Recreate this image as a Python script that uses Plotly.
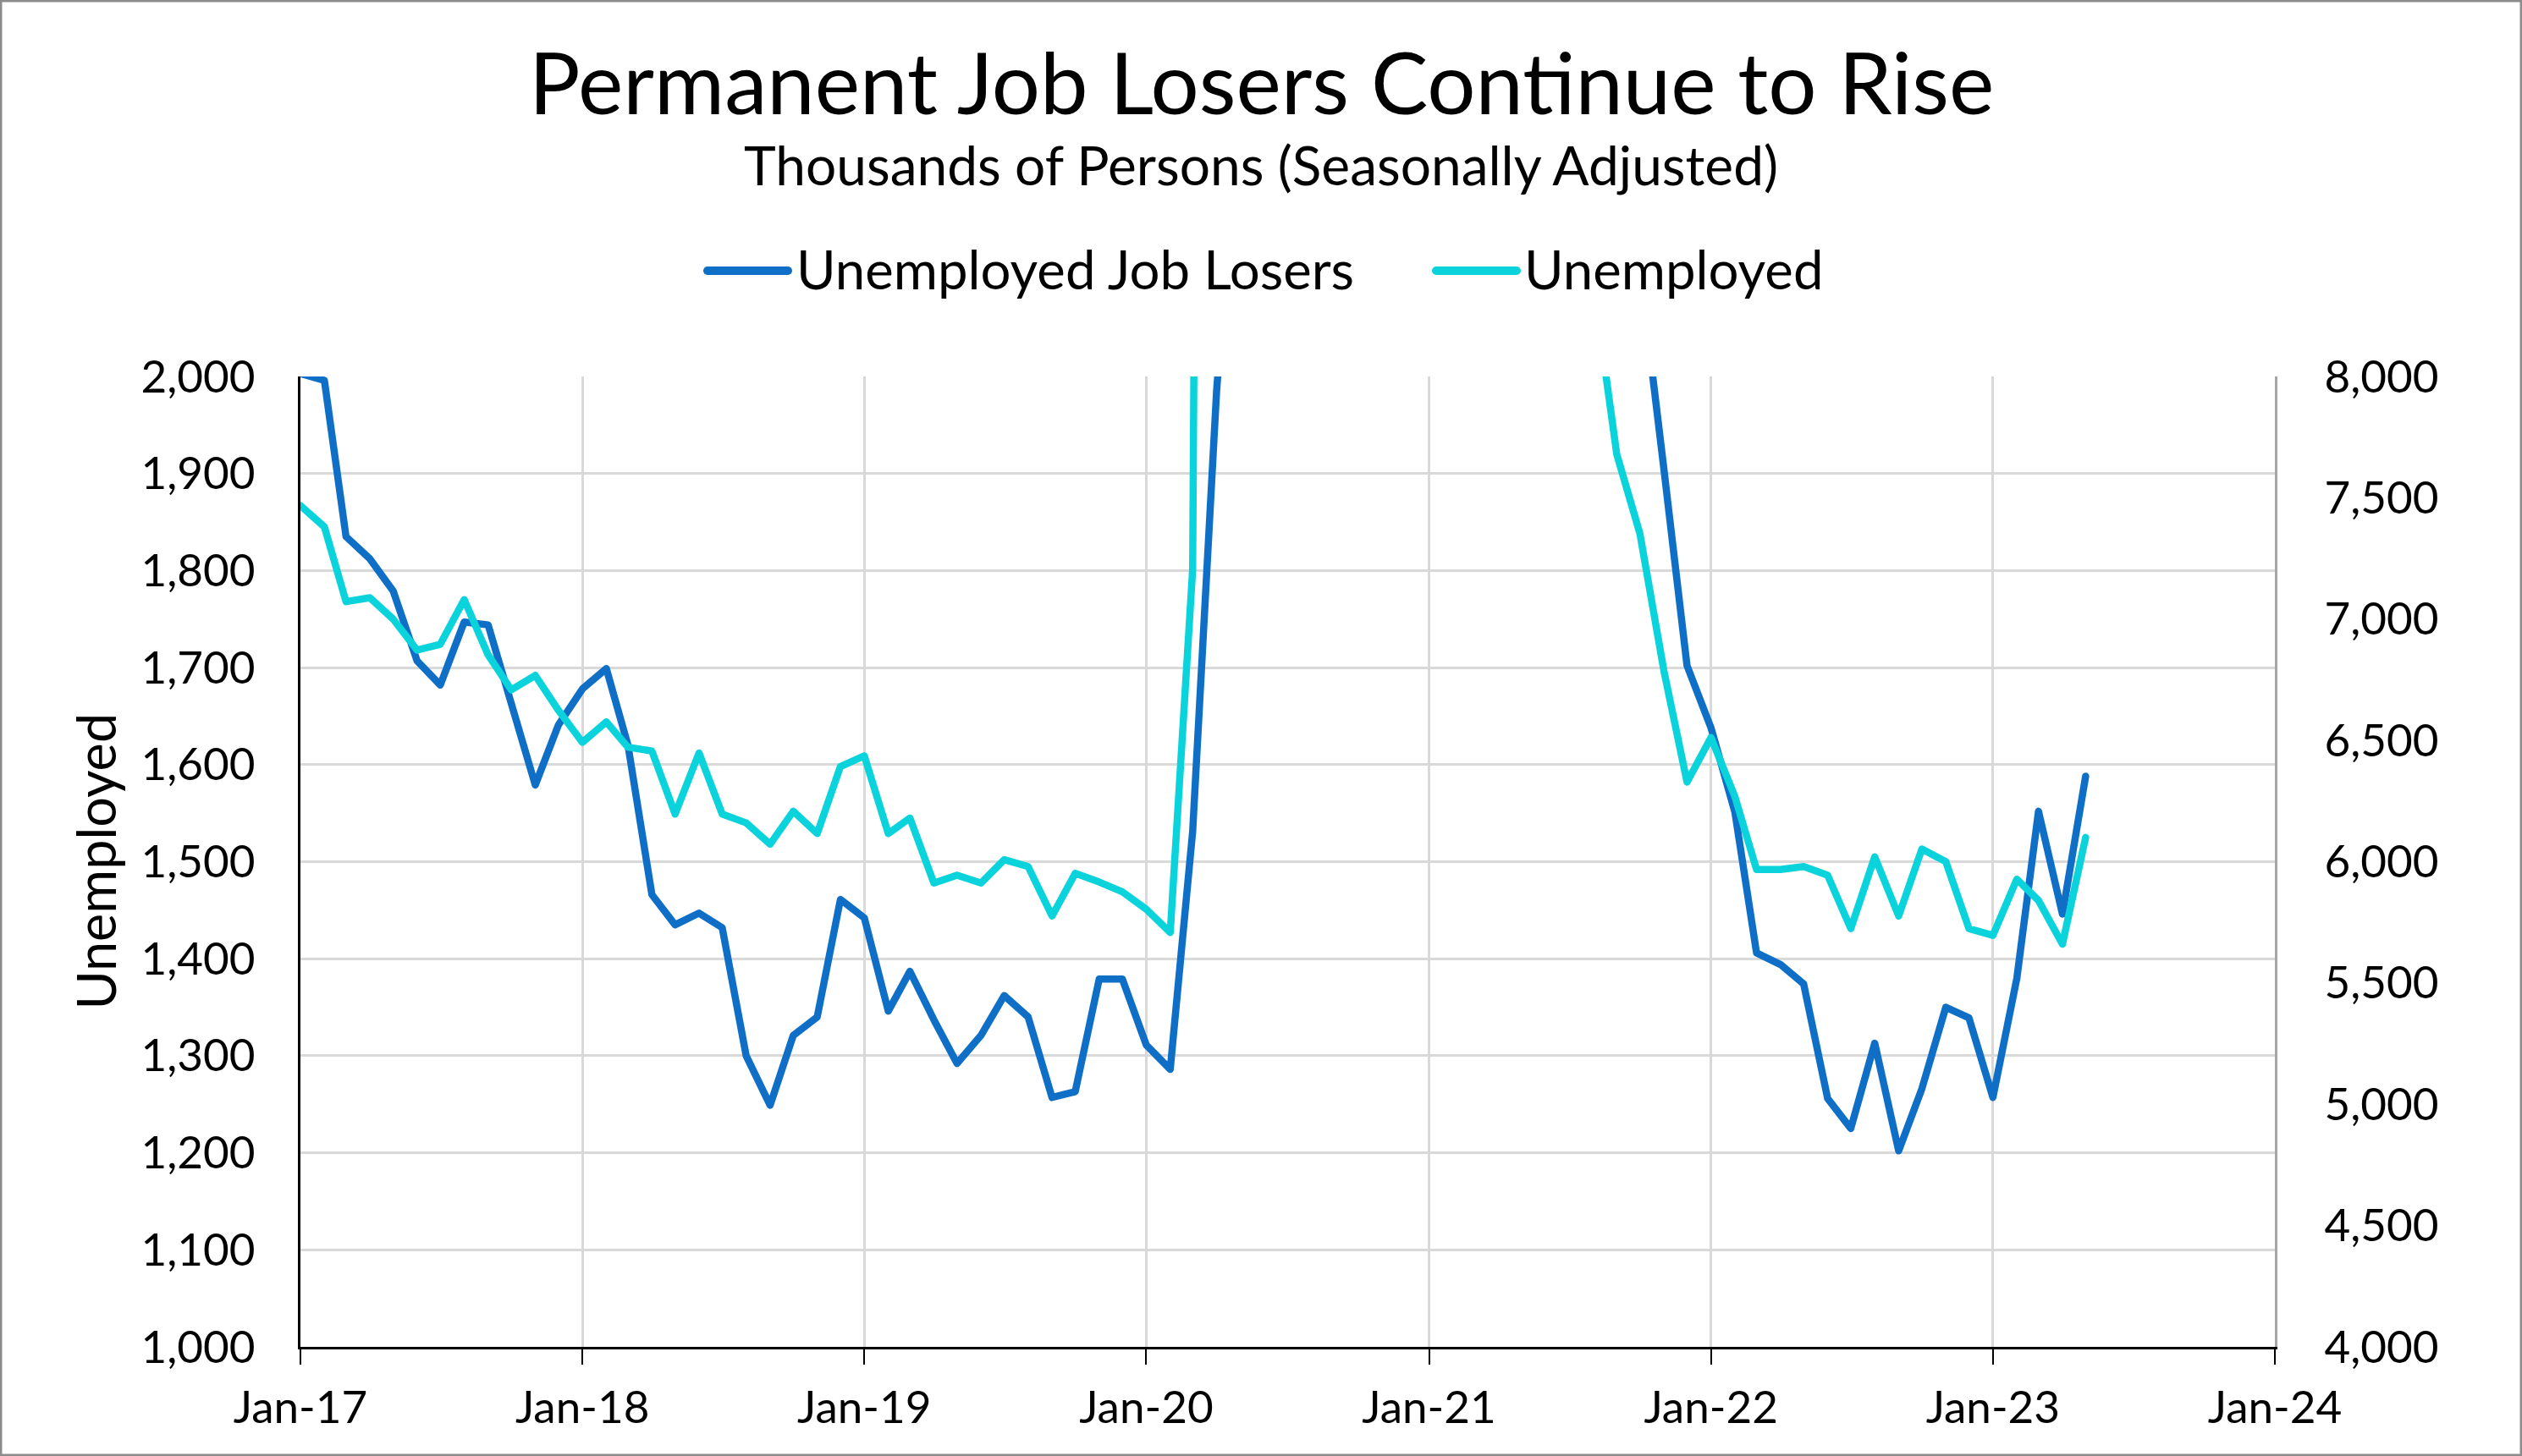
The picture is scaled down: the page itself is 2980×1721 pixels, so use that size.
import pandas as pd
import plotly.graph_objects as go

# ---------------- data (thousands of persons, seasonally adjusted) ----------------
months = pd.date_range("2017-01-01", "2023-05-01", freq="MS")

job_losers = [
    # 2017
    2003, 1996, 1835, 1812, 1779, 1707, 1682, 1747, 1744, 1662, 1579, 1641,
    # 2018
    1678, 1699, 1620, 1466, 1435, 1447, 1432, 1300, 1249, 1321, 1340, 1461,
    # 2019
    1442, 1346, 1387, 1337, 1292, 1321, 1362, 1340, 1257, 1263, 1379, 1379,
    # 2020
    1311, 1286, 1531, 1985, 2295, 2877, 2877, 3411, 3756, 3679, 3665, 3370,
    # 2021
    3500, 3451, 3368, 3450, 3236, 3200, 2950, 2750, 2400, 2110, 1905, 1702,
    # 2022
    1638, 1551, 1406, 1394, 1374, 1256, 1225, 1313, 1202, 1266, 1350, 1339,
    # 2023
    1257, 1380, 1552, 1446, 1588,
]

unemployed = [
    # 2017
    7468, 7380, 7072, 7088, 7000, 6872, 6896, 7080, 6852, 6708, 6768, 6624,
    # 2018
    6492, 6576, 6472, 6456, 6196, 6448, 6196, 6160, 6072, 6208, 6116, 6392,
    # 2019
    6436, 6116, 6180, 5912, 5944, 5912, 6008, 5980, 5776, 5952, 5916, 5876,
    # 2020
    5804, 5708, 7204, 23078, 20985, 17697, 16308, 13542, 12535, 11049, 10728, 10736,
    # 2021
    10130, 9972, 9710, 9812, 9316, 9484, 8702, 8400, 7680, 7352, 6788, 6328,
    # 2022
    6512, 6268, 5968, 5968, 5980, 5944, 5724, 6020, 5776, 6052, 6000, 5724,
    # 2023
    5696, 5928, 5840, 5660, 6100,
]

series_names = ["Unemployed Job Losers", "Unemployed"]
title_text = "Permanent Job Losers Continue to Rise"
subtitle_text = "Thousands of Persons (Seasonally Adjusted)"
y_title_text = "Unemployed"
x_range = ["2017-01-01", "2024-01-01"]
y_left_range = [1000, 2000]
y_right_range = [4000, 8000]

# ---------------- styling ----------------
W, H = 2980, 1721
ML, MR, MT, MB = 355, 292, 445, 129
PW, PH = W - ML - MR, H - MT - MB
FONT = "Lato"
DARK = "#0F6FC6"
CYAN = "#0BD3DC"
GRID = "#d9d9d9"
LINE_W = 8.5


def px_x(px):
    return (px - ML) / PW


def px_y(py):
    return (H - MB - py) / PH


fig = go.Figure()
fig.add_trace(go.Scatter(
    x=months, y=job_losers, name=series_names[0], mode="lines",
    line=dict(color=DARK, width=LINE_W), yaxis="y", showlegend=False,
))
fig.add_trace(go.Scatter(
    x=months, y=unemployed, name=series_names[1], mode="lines",
    line=dict(color=CYAN, width=LINE_W), yaxis="y2", showlegend=False,
))

tickfont = dict(family=FONT, size=53, color="black")

fig.update_layout(
    width=W, height=H,
    margin=dict(l=ML, r=MR, t=MT, b=MB, pad=0),
    paper_bgcolor="white", plot_bgcolor="white",
    font=dict(family=FONT, color="black"),
    xaxis=dict(
        type="date", range=x_range, dtick="M12", tick0="2017-01-01",
        tickformat="%b-%y", tickfont=tickfont,
        showgrid=True, gridcolor=GRID, gridwidth=2.5,
        showline=True, linecolor="black", linewidth=3,
        ticks="outside", ticklen=18, tickwidth=2, tickcolor="black",
        ticklabelstandoff=5, zeroline=False,
    ),
    yaxis=dict(
        range=y_left_range, dtick=100, tickformat=",", tickfont=tickfont,
        showgrid=True, gridcolor=GRID, gridwidth=2.5,
        showline=True, linecolor="black", linewidth=3,
        ticks="", ticklabelstandoff=40, zeroline=False,
    ),
    yaxis2=dict(
        range=y_right_range, dtick=500, tickformat=",", tickfont=tickfont,
        overlaying="y", side="right", showgrid=False,
        showline=True, linecolor="#a6a6a6", linewidth=3,
        ticks="", ticklabelstandoff=45, zeroline=False,
    ),
    showlegend=False,
)

annotations = [
    dict(text=title_text, x=px_x(W / 2), xref="paper", y=px_y(96), yref="paper",
         xanchor="center", yanchor="middle", showarrow=False,
         font=dict(family=FONT, size=101, color="black")),
    dict(text=subtitle_text, x=px_x(W / 2), xref="paper", y=px_y(194), yref="paper",
         xanchor="center", yanchor="middle", showarrow=False,
         font=dict(family=FONT, size=64, color="black")),
    dict(text=y_title_text, x=px_x(112), xref="paper", y=0.5, yref="paper",
         xanchor="center", yanchor="middle", textangle=-90, showarrow=False,
         font=dict(family=FONT, size=63, color="black")),
    dict(text=series_names[0], x=px_x(939), xref="paper", y=px_y(317), yref="paper",
         xanchor="left", yanchor="middle", showarrow=False,
         font=dict(family=FONT, size=63.5, color="black")),
    dict(text=series_names[1], x=px_x(1799), xref="paper", y=px_y(317), yref="paper",
         xanchor="left", yanchor="middle", showarrow=False,
         font=dict(family=FONT, size=63.5, color="black")),
]
fig.update_layout(annotations=annotations)

shapes = [
    # legend swatches
    dict(type="line", xref="paper", yref="paper", x0=px_x(836), x1=px_x(931),
         y0=px_y(320), y1=px_y(320), line=dict(color=DARK, width=10)),
    dict(type="line", xref="paper", yref="paper", x0=px_x(1697), x1=px_x(1792),
         y0=px_y(320), y1=px_y(320), line=dict(color=CYAN, width=10)),
    # outer chart border
    dict(type="rect", xref="paper", yref="paper", x0=px_x(1), x1=px_x(W - 1),
         y0=px_y(H - 1), y1=px_y(1), line=dict(color="#8c8c8c", width=3),
         fillcolor="rgba(0,0,0,0)", layer="above"),
]
fig.update_layout(shapes=shapes)

post = (
    "document.body.style.margin='0';"
    "document.body.style.overflow='hidden';"
    "document.querySelectorAll('.scatterlayer .js-line').forEach(function(p){"
    "p.style.strokeLinejoin='round';p.style.strokeLinecap='round';});"
    "document.querySelectorAll('.shapelayer path').forEach(function(p){"
    "p.style.strokeLinecap='round';});"
)

fig.write_html(
    "out.html",
    config={"displayModeBar": False},
    post_script=post,
)
